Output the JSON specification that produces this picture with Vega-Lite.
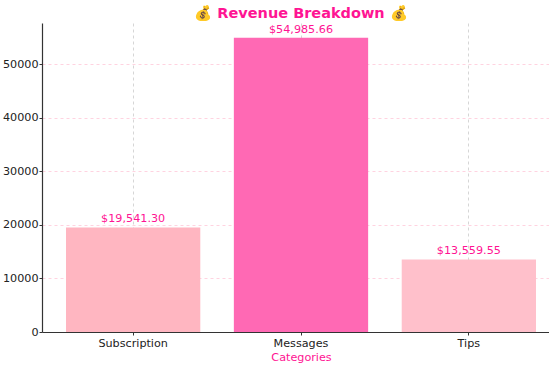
{
  "$schema": "https://vega.github.io/schema/vega-lite/v6.json",
  "width": 518,
  "height": 309,
  "autosize": {"type": "none"},
  "padding": {"left": 42, "top": 23, "right": 0, "bottom": 36},
  "background": "white",
  "title": {
    "text": "💰 Revenue Breakdown 💰",
    "color": "#FF1493",
    "font": "DejaVu Sans",
    "fontSize": 14.5,
    "fontWeight": "bold",
    "anchor": "middle",
    "offset": 2
  },
  "config": {
    "view": {"stroke": null},
    "font": "DejaVu Sans"
  },
  "data": {
    "values": [
      {"category": "Subscription", "revenue": 19541.30, "label": "$19,541.30"},
      {"category": "Messages", "revenue": 54985.66, "label": "$54,985.66"},
      {"category": "Tips", "revenue": 13559.55, "label": "$13,559.55"}
    ]
  },
  "encoding": {
    "x": {
      "field": "category",
      "type": "nominal",
      "sort": ["Subscription", "Messages", "Tips"],
      "scale": {"paddingInner": 0.2, "paddingOuter": 0.143},
      "axis": {
        "title": "Categories",
        "titleColor": "#FF1493",
        "titleFont": "DejaVu Sans",
        "titleFontSize": 11.2,
        "titleFontWeight": "normal",
        "titlePadding": 3,
        "labelAngle": 0,
        "labelFontSize": 11.2,
        "labelColor": "#222222",
        "labelPadding": 2,
        "domainColor": "#333333",
        "domainWidth": 1.2,
        "tickColor": "#333333",
        "tickSize": 3,
        "grid": true,
        "gridColor": "#cccccc",
        "gridDash": [3, 3],
        "gridWidth": 0.8
      }
    },
    "y": {
      "field": "revenue",
      "type": "quantitative",
      "scale": {"domain": [0, 57735], "nice": false},
      "axis": {
        "title": null,
        "values": [0, 10000, 20000, 30000, 40000, 50000],
        "format": "d",
        "labelFontSize": 11.2,
        "labelColor": "#222222",
        "labelPadding": 1,
        "domainColor": "#333333",
        "domainWidth": 1.2,
        "tickColor": "#333333",
        "tickSize": 3,
        "grid": true,
        "gridColor": "#ffc8d8",
        "gridDash": [3, 3],
        "gridWidth": 0.8
      }
    }
  },
  "layer": [
    {
      "mark": {"type": "bar"},
      "encoding": {
        "color": {
          "field": "category",
          "type": "nominal",
          "scale": {"domain": ["Subscription", "Messages", "Tips"], "range": ["#FFB6C1", "#FF69B4", "#FFC0CB"]},
          "legend": null
        }
      }
    },
    {
      "mark": {"type": "text", "baseline": "alphabetic", "dy": -5, "fontSize": 11.2, "color": "#FF1493", "font": "DejaVu Sans"},
      "encoding": {
        "text": {"field": "label"}
      }
    }
  ]
}
